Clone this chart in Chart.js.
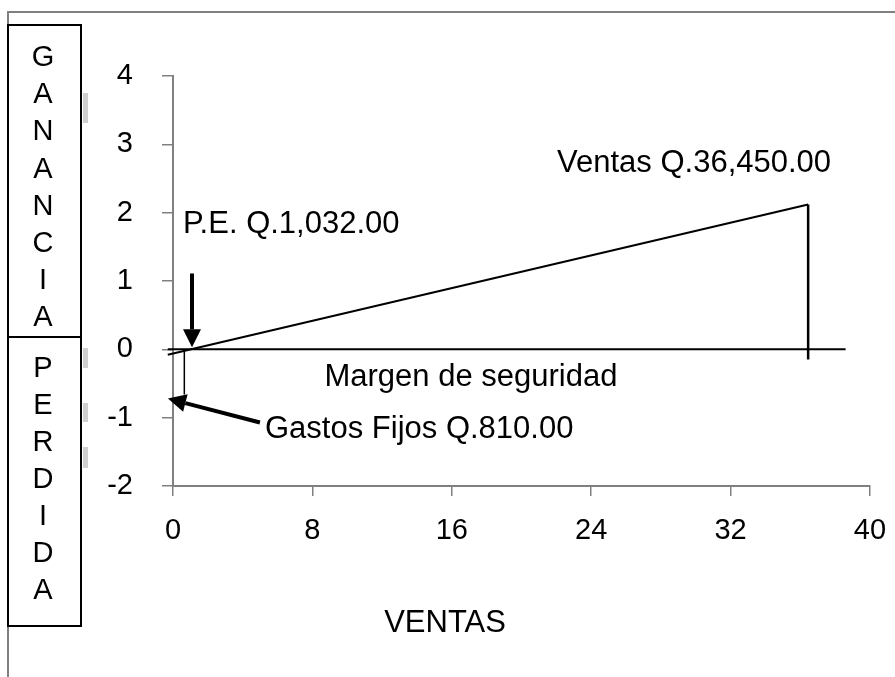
<!DOCTYPE html>
<html>
<head>
<meta charset="utf-8">
<script src="https://cdn.jsdelivr.net/npm/chart.js@4"></script>
<style>
  body { margin: 0; background: #fff; }
</style>
</head>
<body>
<canvas id="chart" width="895" height="677"></canvas>
<script>
// valores en miles de quetzales
const xTicks = [0, 8, 16, 24, 32, 40];
const yTicks = [-2, -1, 0, 1, 2, 3, 4];
const ventasX = [-0.3, 36.45];
const ventasY = [-0.08, 2.12];
const ceroX = [-0.3, 38.6];
const ceroY = [0, 0];
const cierreX = [36.45, 36.45];
const cierreY = [2.12, -0.15];
const fijosX = [0.65, 0.65];
const fijosY = [0, -0.66];

const notas = ["P.E. Q.1,032.00", "Ventas Q.36,450.00", "Margen de seguridad", "Gastos Fijos Q.810.00"];
const notaX = [0.57, 22.04, 17.1, 5.28];
const notaY = [1.70, 2.59, -0.53, -1.30];
const flechaDesde = [[1.09, 1.11], [4.99, -1.07]];
const flechaHasta = [[1.09, 0.03], [-0.29, -0.72]];

const tituloX = "VENTAS";
const ganancia = "GANANCIA".split("");
const perdida = "PERDIDA".split("");

const FONT = "'Liberation Sans', Arial, sans-serif";

const toPoints = (xs, ys) => xs.map((x, i) => ({ x, y: ys[i] }));

const lineSet = (xs, ys, width) => ({
  data: toPoints(xs, ys),
  showLine: true,
  borderColor: "#000",
  borderWidth: width,
  pointRadius: 0,
  clip: false,
});

const drawArrow = (ctx, x1, y1, x2, y2) => {
  const ang = Math.atan2(y2 - y1, x2 - x1);
  const head = 18, half = 9;
  const bx = x2 - head * Math.cos(ang), by = y2 - head * Math.sin(ang);
  ctx.beginPath();
  ctx.moveTo(x1, y1);
  ctx.lineTo(bx, by);
  ctx.lineWidth = 4;
  ctx.strokeStyle = "#000";
  ctx.stroke();
  ctx.beginPath();
  ctx.moveTo(x2, y2);
  ctx.lineTo(bx + half * Math.sin(ang), by - half * Math.cos(ang));
  ctx.lineTo(bx - half * Math.sin(ang), by + half * Math.cos(ang));
  ctx.closePath();
  ctx.fillStyle = "#000";
  ctx.fill();
};

const extras = {
  id: "extras",
  beforeDraw(chart) {
    const ctx = chart.ctx;
    ctx.save();
    // marco exterior
    ctx.strokeStyle = "#808080";
    ctx.lineWidth = 2;
    ctx.beginPath();
    ctx.moveTo(895, 12);
    ctx.lineTo(8, 12);
    ctx.lineTo(8, 677);
    ctx.stroke();
    // marcas grises
    ctx.fillStyle = "#cfcfcf";
    [[93, 30], [348, 20], [403, 19], [447, 21]].forEach(([y, h]) => ctx.fillRect(83, y, 5, h));
    ctx.restore();
  },
  afterDatasetsDraw(chart) {
    const ctx = chart.ctx;
    const sx = chart.scales.x, sy = chart.scales.y;
    ctx.save();
    // cajas GANANCIA / PERDIDA
    ctx.fillStyle = "#fff";
    ctx.fillRect(8, 25, 73, 601);
    ctx.strokeStyle = "#000";
    ctx.lineWidth = 2;
    ctx.strokeRect(8, 25, 73, 312);
    ctx.strokeRect(8, 337, 73, 289);
    ctx.fillStyle = "#000";
    ctx.font = "29px " + FONT;
    ctx.textAlign = "center";
    ctx.textBaseline = "middle";
    ganancia.forEach((c, i) => ctx.fillText(c, 43, 58 + i * 37.2));
    perdida.forEach((c, i) => ctx.fillText(c, 43, 369 + i * 37));

    // titulo del eje x
    ctx.font = "31px " + FONT;
    ctx.fillText(tituloX, 445, 623);

    // notas
    ctx.textBaseline = "alphabetic";
    notas.forEach((t, i) => {
      ctx.textAlign = i === 2 ? "center" : "left";
      ctx.fillText(t, sx.getPixelForValue(notaX[i]), sy.getPixelForValue(notaY[i]));
    });
    // flechas
    flechaDesde.forEach((f, i) => {
      const t = flechaHasta[i];
      drawArrow(ctx,
        sx.getPixelForValue(f[0]), sy.getPixelForValue(f[1]),
        sx.getPixelForValue(t[0]), sy.getPixelForValue(t[1]));
    });
    ctx.restore();
  },
};

new Chart(document.getElementById("chart"), {
  type: "scatter",
  data: {
    datasets: [
      lineSet(ventasX, ventasY, 2),
      lineSet(ceroX, ceroY, 2),
      lineSet(cierreX, cierreY, 2.5),
      lineSet(fijosX, fijosY, 1.5),
    ],
  },
  options: {
    responsive: false,
    animation: false,
    devicePixelRatio: 1,
    layout: { padding: { top: 76, right: 25, left: 0, bottom: 0 } },
    plugins: { legend: { display: false }, tooltip: { enabled: false } },
    scales: {
      x: {
        type: "linear",
        min: xTicks[0],
        max: xTicks[xTicks.length - 1],
        afterBuildTicks: (s) => { s.ticks = xTicks.map((v) => ({ value: v })); },
        afterFit: (s) => { s.height = 191; s.paddingLeft = 0; s.paddingRight = 0; },
        border: { color: "#808080", width: 2 },
        grid: { drawOnChartArea: false, color: "#808080", tickLength: 10, lineWidth: 1.5 },
        ticks: { color: "#000", font: { family: FONT, size: 29 }, padding: 18, maxRotation: 0 },
      },
      y: {
        type: "linear",
        min: yTicks[0],
        max: yTicks[yTicks.length - 1],
        afterBuildTicks: (s) => { s.ticks = yTicks.map((v) => ({ value: v })); },
        afterFit: (s) => { s.width = 173; s.paddingTop = 0; s.paddingBottom = 0; },
        border: { color: "#808080", width: 2 },
        grid: { drawOnChartArea: false, color: "#808080", tickLength: 11, lineWidth: 1.5 },
        ticks: { color: "#000", font: { family: FONT, size: 29 }, padding: 29 },
      },
    },
  },
  plugins: [extras],
});
</script>
</body>
</html>
